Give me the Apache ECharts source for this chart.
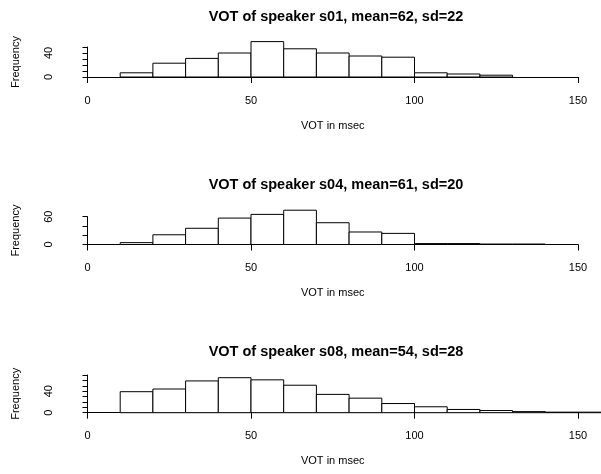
<!DOCTYPE html>
<html>
<head>
<meta charset="utf-8">
<script src="https://cdn.jsdelivr.net/npm/echarts@6/dist/echarts.min.js"></script>
<style>
html,body{margin:0;padding:0;background:#fff;}
#chart{width:601px;height:474px;}
</style>
</head>
<body>
<div id="chart"></div>
<script>
// ---- data ----
const titles = [
  'VOT of speaker s01, mean=62, sd=22',
  'VOT of speaker s04, mean=61, sd=20',
  'VOT of speaker s08, mean=54, sd=28'
];
const binEdges1 = [10,20,30,40,50,60,70,80,90,100,110,120,130];
const counts1   = [7,23,31,40,59,47,40,35,33,7,5,3];
const binEdges2 = [10,20,30,40,50,60,70,80,90,100,110,120,130,140];
const counts2   = [4,21,35,57,65,74,47,27,24,2,2,1,1];
const binEdges3 = [10,20,30,40,50,60,70,80,90,100,110,120,130,140,150,160];
const counts3   = [39,44,59,65,61,51,34,27,17,11,6,4,2,1,1];
const xTicks = [0,50,100,150];
const yTickTop = [50,60,70];
const yTickStep = [10,20,10];
const yLabels = [[0,40],[0,60],[0,40]];
const xName = 'VOT in msec';
const yName = 'Frequency';

const FONT = '"Liberation Sans", Arial, sans-serif';

function bins(edges, counts){
  return counts.map((c,i)=>[edges[i], edges[i+1], c]);
}
const panels = [bins(binEdges1,counts1), bins(binEdges2,counts2), bins(binEdges3,counts3)];

// layout (pixels)
const gridLeft = 87.5, gridRight = 23;
const gridTops = [47, 216.7, 375];
const gridBottoms = [397, 229.5, 61.3];
const titleTops = [4, 172, 339];

const chart = echarts.init(document.getElementById('chart'), null, {renderer:'canvas'});

const option = {
  animation:false,
  backgroundColor:'#fff',
  title: titles.map((t,i)=>({
    text:t, left:331, top:titleTops[i], textAlign:'center',
    textStyle:{fontFamily:FONT, fontSize:14.5, fontWeight:'bold', color:'#000'}
  })),
  grid: gridTops.map((t,i)=>({left:gridLeft, right:gridRight, top:t, bottom:gridBottoms[i]})),
  xAxis: panels.map((p,i)=>({
    type:'value', gridIndex:i, min:xTicks[0], max:xTicks[xTicks.length-1],
    interval:xTicks[1]-xTicks[0], offset:1,
    name:xName, nameLocation:'middle', nameGap:42,
    nameTextStyle:{fontFamily:FONT, fontSize:11, color:'#000'},
    axisLine:{show:true, lineStyle:{color:'#000', width:1}},
    axisTick:{show:true, length:6, lineStyle:{color:'#000'}},
    axisLabel:{fontFamily:FONT, fontSize:11, color:'#000', margin:17},
    splitLine:{show:false}
  })),
  yAxis: panels.map((p,i)=>({
    type:'value', gridIndex:i, min:0, max:yTickTop[i], interval:yTickStep[i],
    offset:21,
    name:yName, nameLocation:'middle', nameGap:45, nameRotate:90,
    nameTextStyle:{fontFamily:FONT, fontSize:11, color:'#000'},
    axisLine:{show:true, lineStyle:{color:'#000', width:1}},
    axisTick:{show:true, length:5, lineStyle:{color:'#000'}},
    axisLabel:{fontFamily:FONT, fontSize:11, color:'#000', rotate:90, margin:12,
      formatter:(v)=> yLabels[i].indexOf(v)>=0 ? String(v) : ''},
    splitLine:{show:false}
  })),
  series: panels.map((data,i)=>({
    type:'custom', xAxisIndex:i, yAxisIndex:i, clip:false,
    encode:{x:[0,1], y:2},
    data:data,
    renderItem:function(params, api){
      const a = api.coord([api.value(0), api.value(2)]);
      const b = api.coord([api.value(1), 0]);
      return {
        type:'rect',
        shape:{x:a[0], y:a[1], width:b[0]-a[0], height:b[1]-a[1]},
        style:{fill:'#fff', stroke:'#000', lineWidth:1}
      };
    }
  }))
};
chart.setOption(option);
</script>
</body>
</html>
